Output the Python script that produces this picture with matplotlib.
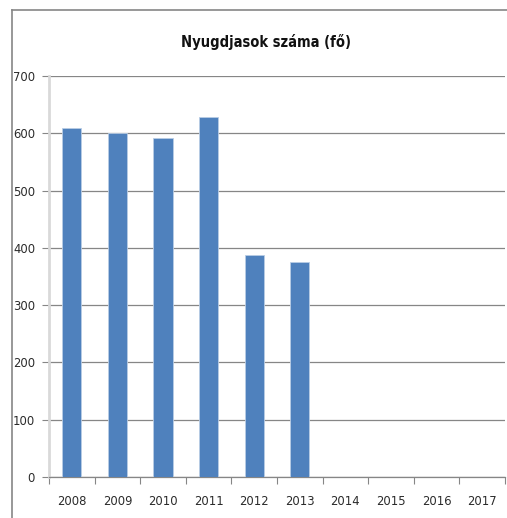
import matplotlib
matplotlib.use("Agg")
import matplotlib.pyplot as plt
from matplotlib.lines import Line2D
import numpy as np

plt.rcParams['font.family'] = ['DejaVu Sans']
plt.rcParams['font.stretch'] = 'condensed'

years = ['2008', '2009', '2010', '2011', '2012', '2013', '2014', '2015', '2016', '2017']
values = [609, 600, 592, 628, 388, 376, 0, 0, 0, 0]
title = 'Nyugdjasok száma (fő)'
yticks = [0, 100, 200, 300, 400, 500, 600, 700]

W, H = 507, 518
fig = plt.figure(figsize=(W / 100, H / 100), dpi=100)
ax = fig.add_axes([49 / W, 1 - 477 / H, (505 - 49) / W, (477 - 76) / H])

x = np.arange(len(years))
ax.bar(x, values, width=0.42, color='#4f81bd', edgecolor='#b9cde5', linewidth=0.6, zorder=3)

ax.set_xlim(-0.5, len(years) - 0.5)
ax.set_ylim(0, 700)
ax.set_yticks(yticks)
ax.set_yticklabels([str(v) for v in yticks], fontsize=9.3, color='#2a2a2a')
ax.set_xticks(x)
ax.set_xticklabels(years, fontsize=9.3, color='#2a2a2a')
ax.set_xticks(np.arange(-0.5, len(years)), minor=True)
ax.tick_params(axis='x', which='major', length=0, pad=13)
ax.tick_params(axis='x', which='minor', length=5, color='#868686', width=0.8)
ax.tick_params(axis='y', length=5, color='#868686', width=0.8, pad=5)

ax.grid(axis='y', color='#868686', linewidth=0.9, zorder=0)
for s in ['top', 'right']:
    ax.spines[s].set_visible(False)
ax.spines['bottom'].set_color('#868686')
ax.spines['bottom'].set_linewidth(0.9)
ax.spines['left'].set_color('#d9d9d9')
ax.spines['left'].set_linewidth(2)

fig.text(266 / W, 1 - 42 / H, title, ha='center', va='center', fontsize=10.5, fontweight='bold', color='#111111')

# outer chart frame (cropped at right and bottom)
fig.add_artist(Line2D([12 / W, 12 / W], [0, 1 - 10 / H], transform=fig.transFigure, color='#868686', linewidth=1.2))
fig.add_artist(Line2D([12 / W, 1], [1 - 10 / H, 1 - 10 / H], transform=fig.transFigure, color='#868686', linewidth=1.2))

fig.savefig('out.png', dpi=100)
